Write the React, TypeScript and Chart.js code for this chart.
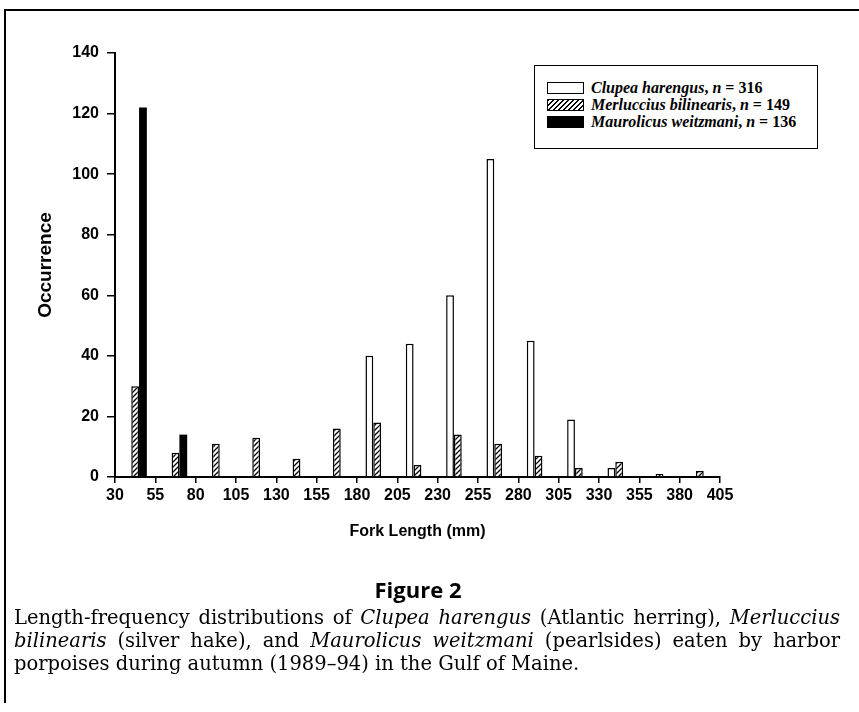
import React, { useEffect, useRef } from 'react';
import { Chart, registerables } from 'chart.js';

Chart.register(...registerables);

// Bin centres (fork length, mm) — bins are 25 mm wide, from 30 to 405
const binCenters = [42.5, 67.5, 92.5, 117.5, 142.5, 167.5, 192.5, 217.5, 242.5, 267.5, 292.5, 317.5, 342.5, 367.5, 392.5];
const clupea = [0, 0, 0, 0, 0, 0, 40, 44, 60, 105, 45, 19, 3, 0, 0];
const merluccius = [30, 8, 11, 13, 6, 16, 18, 4, 14, 11, 7, 3, 5, 1, 2];
const maurolicus = [122, 14, 0, 0, 0, 0, 0, 0, 0, 0, 0, 0, 0, 0, 0];

const xMin = 30;
const xMax = 405;
const xStep = 25;
const yMin = 0;
const yMax = 140;
const yStep = 20;

const seriesNames = ['Clupea harengus', 'Merluccius bilinearis', 'Maurolicus weitzmani'];
const seriesN = [316, 149, 136];

const axisFont = { family: '"Liberation Sans", Arial, sans-serif', weight: 'bold' as const, size: 16 };

function makeHatch(): CanvasPattern | string {
  const c = document.createElement('canvas');
  c.width = 5;
  c.height = 5;
  const g = c.getContext('2d');
  if (!g) return '#888';
  g.fillStyle = '#fff';
  g.fillRect(0, 0, 5, 5);
  g.strokeStyle = '#000';
  g.lineWidth = 1.3;
  g.beginPath();
  g.moveTo(0, 5); g.lineTo(5, 0);
  g.moveTo(-1, 1); g.lineTo(1, -1);
  g.moveTo(4, 6); g.lineTo(6, 4);
  g.stroke();
  return g.createPattern(c, 'repeat') || '#888';
}

function BarChart() {
  const ref = useRef<HTMLCanvasElement | null>(null);
  useEffect(() => {
    if (!ref.current) return;
    const hatch = makeHatch();
    const chart = new Chart(ref.current, {
      type: 'bar',
      data: {
        datasets: [
          {
            label: seriesNames[0],
            data: binCenters.map((x, i) => ({ x, y: clupea[i] })),
            backgroundColor: '#fff',
            borderColor: '#000',
            borderWidth: 1.5,
            borderSkipped: 'bottom',
          },
          {
            label: seriesNames[1],
            data: binCenters.map((x, i) => ({ x, y: merluccius[i] })),
            backgroundColor: hatch as any,
            borderColor: '#000',
            borderWidth: 1.5,
            borderSkipped: 'bottom',
          },
          {
            label: seriesNames[2],
            data: binCenters.map((x, i) => ({ x, y: maurolicus[i] })),
            backgroundColor: '#000',
            borderColor: '#000',
            borderWidth: 0,
          },
        ],
      },
      options: {
        animation: false,
        responsive: false,
        maintainAspectRatio: false,
        datasets: { bar: { categoryPercentage: 0.58, barPercentage: 1.0 } },
        layout: { padding: { left: 0, right: 139, top: 53, bottom: 0 } },
        plugins: { legend: { display: false }, tooltip: { enabled: false } },
        scales: {
          x: {
            type: 'linear',
            min: xMin,
            max: xMax,
            offset: false,
            ticks: { stepSize: xStep, color: '#000', font: axisFont, padding: 3, autoSkip: false, maxRotation: 0 },
            grid: { display: true, offset: false, drawOnChartArea: false, drawTicks: true, tickLength: 6, color: '#000', lineWidth: 1.5 },
            border: { display: true, color: '#000', width: 2 },
            title: { display: true, text: 'Fork Length (mm)', color: '#000', font: { ...axisFont, size: 16 }, padding: { top: 0, bottom: 19 } },
            afterFit: (s: any) => { s.height = 83; },
          },
          y: {
            min: yMin,
            max: yMax,
            ticks: { stepSize: yStep, color: '#000', font: axisFont, padding: 8 },
            grid: { display: true, drawOnChartArea: false, drawTicks: true, tickLength: 8, color: '#000', lineWidth: 1.5 },
            border: { display: true, color: '#000', width: 2 },
            title: { display: true, text: 'Occurrence', color: '#000', font: { ...axisFont, size: 19 }, padding: { top: 34, bottom: 0 } },
            afterFit: (s: any) => { s.width = 115; },
          },
        },
      } as any,
    });
    return () => chart.destroy();
  }, []);
  return <canvas ref={ref} width={859} height={560} style={{ width: 859, height: 560, display: 'block' }} />;
}

const legendText: React.CSSProperties = {
  fontFamily: '"Liberation Serif", "Times New Roman", serif',
  fontWeight: 'bold',
  fontSize: 16,
  lineHeight: '17px',
  color: '#000',
  whiteSpace: 'nowrap',
};

function Swatch({ kind }: { kind: number }) {
  const base: React.CSSProperties = { width: 37, height: 12, border: '1.5px solid #000', boxSizing: 'border-box', marginRight: 7, flex: 'none' };
  if (kind === 0) return <div style={{ ...base, background: '#fff' }} />;
  if (kind === 1)
    return <div style={{ ...base, background: 'repeating-linear-gradient(135deg, #000 0px, #000 1.3px, #fff 1.3px, #fff 3.5px)' }} />;
  return <div style={{ ...base, background: '#000' }} />;
}

function Legend() {
  return (
    <div style={{ position: 'absolute', left: 534, top: 65, width: 284, height: 84, border: '1.5px solid #000', boxSizing: 'border-box', paddingLeft: 12, paddingTop: 13, background: '#fff' }}>
      {seriesNames.map((name, i) => (
        <div key={name} style={{ display: 'flex', alignItems: 'center', height: 17, ...legendText }}>
          <Swatch kind={i} />
          <span><i>{name}</i>, <i>n</i> = {seriesN[i]}</span>
        </div>
      ))}
    </div>
  );
}

const captionLine: React.CSSProperties = {
  fontFamily: '"DejaVu Serif", serif',
  fontSize: 19.5,
  lineHeight: '23px',
  height: 23,
  color: '#000',
  whiteSpace: 'nowrap',
};

export default function App() {
  return (
    <div style={{ position: 'absolute', left: 0, top: 0, width: 859, height: 712, background: '#fff', overflow: 'hidden' }}>
      <div style={{ position: 'absolute', left: 0, top: 0 }}>
        <BarChart />
      </div>
      <Legend />
      <div style={{ position: 'absolute', left: 4, top: 9, width: 2, height: 694, background: '#000' }} />
      <div style={{ position: 'absolute', left: 4, top: 9, width: 855, height: 2, background: '#000' }} />
      <div style={{ position: 'absolute', left: 0, top: 576, width: 836, textAlign: 'center', fontFamily: '"Open Sans", "Noto Sans", sans-serif', fontWeight: 'bold', fontSize: 22, lineHeight: '26px', color: '#000' }}>
        Figure 2
      </div>
      <div style={{ position: 'absolute', left: 14, top: 606, width: 826 }}>
        <div style={{ ...captionLine, textAlign: 'justify', textAlignLast: 'justify' }}>
          Length-frequency distributions of <i>Clupea harengus</i> (Atlantic herring), <i>Merluccius</i>
        </div>
        <div style={{ ...captionLine, textAlign: 'justify', textAlignLast: 'justify' }}>
          <i>bilinearis</i> (silver hake), and <i>Maurolicus weitzmani</i> (pearlsides) eaten by harbor
        </div>
        <div style={{ ...captionLine, textAlign: 'left' }}>
          porpoises during autumn (1989–94) in the Gulf of Maine.
        </div>
      </div>
    </div>
  );
}
